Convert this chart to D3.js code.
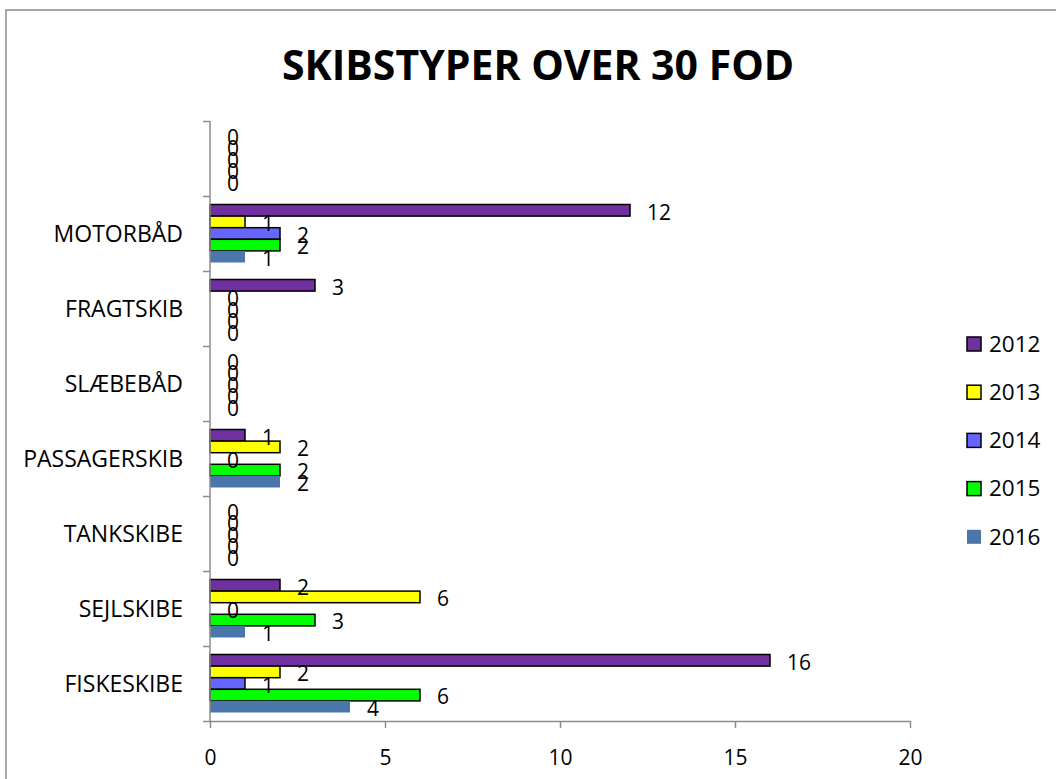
<!DOCTYPE html>
<html>
<head>
<meta charset="utf-8">
<script src="https://cdn.jsdelivr.net/npm/d3@7"></script>
<style>
  body { margin: 0; background: #fff; }
  #vis { width: 1056px; height: 779px; }
  text { font-family: "Open Sans", sans-serif; fill: #000; }
</style>
</head>
<body>
<div id="vis"></div>
<script>
// categories top to bottom (top one has no label)
var categories = ["", "MOTORBÅD", "FRAGTSKIB", "SLÆBEBÅD", "PASSAGERSKIB", "TANKSKIBE", "SEJLSKIBE", "FISKESKIBE"];
var years = ["2012", "2013", "2014", "2015", "2016"];
var colours = ["#7030a0", "#ffff00", "#6666ff", "#00ff00", "#4a76ab"];

// one array per year, same order as categories
var v2012 = [0, 12, 3, 0, 1, 0, 2, 16];
var v2013 = [0, 1, 0, 0, 2, 0, 6, 2];
var v2014 = [0, 2, 0, 0, 0, 0, 0, 1];
var v2015 = [0, 2, 0, 0, 2, 0, 3, 6];
var v2016 = [0, 1, 0, 0, 2, 0, 1, 4];
var xTicks = [0, 5, 10, 15, 20];

var series = [v2012, v2013, v2014, v2015, v2016];

var width = 1056,
  height = 779;

var svg = d3.select('#vis')
  .append('svg')
  .attr('width', width)
  .attr('height', height);

// chart frame
svg.append('rect')
  .attr('x', 6)
  .attr('y', 10)
  .attr('width', 1070)
  .attr('height', 800)
  .attr('fill', 'none')
  .attr('stroke', '#8c8c8c')
  .attr('stroke-width', 1.5);

svg.append('text')
  .text('SKIBSTYPER OVER 30 FOD')
  .attr('x', 538)
  .attr('y', 80)
  .attr('text-anchor', 'middle')
  .style('font-weight', 'bold')
  .style('font-size', '41px');

var plot = { left: 210, right: 910, top: 121, bottom: 721 };

var x_scale = d3.scaleLinear()
  .domain([0, 20])
  .range([plot.left, plot.right]);

var y_scale = d3.scaleBand()
  .domain(categories)
  .range([plot.top, plot.bottom]);

var inner = d3.scaleBand()
  .domain(years)
  .range([8.5, y_scale.bandwidth() - 8.5]);

var rows = [];
categories.forEach(function(c, i) {
  years.forEach(function(y, j) {
    rows.push({ cat: c, year: y, idx: j, value: series[j][i] });
  });
});

// bars
svg.selectAll('.bar')
  .data(rows)
  .enter()
  .append('rect')
  .attr('class', 'bar')
  .attr('x', x_scale(0))
  .attr('y', function(d) { return y_scale(d.cat) + inner(d.year); })
  .attr('width', function(d) { return x_scale(d.value) - x_scale(0); })
  .attr('height', inner.bandwidth())
  .attr('fill', function(d) { return colours[d.idx]; })
  .attr('stroke', function(d) { return (d.idx < 4 && d.value > 0) ? '#000' : 'none'; })
  .attr('stroke-width', 1.5);

// data labels
svg.selectAll('.lbl')
  .data(rows)
  .enter()
  .append('text')
  .attr('class', 'lbl')
  .attr('x', function(d) { return x_scale(d.value) + 17; })
  .attr('y', function(d) { return y_scale(d.cat) + inner(d.year) + inner.bandwidth() / 2 + 2; })
  .attr('dy', '0.35em')
  .style('font-size', '21px')
  .text(function(d) { return d.value; });

// y axis: line, ticks at band edges, labels at centres
var edges = d3.scaleLinear().domain([0, categories.length]).range([plot.top, plot.bottom]);
var y_axis = svg.append('g')
  .attr('class', 'y axis')
  .attr('transform', 'translate(' + plot.left + ',0)')
  .call(d3.axisLeft(edges).ticks(categories.length).tickSize(7).tickFormat(''));
y_axis.selectAll('line').attr('stroke', '#8c8c8c').attr('stroke-width', 1.5);
y_axis.select('.domain').attr('stroke', '#8c8c8c').attr('stroke-width', 1.5).attr('d', 'M0,' + plot.top + 'V' + plot.bottom);

svg.selectAll('.cat')
  .data(categories)
  .enter()
  .append('text')
  .attr('class', 'cat')
  .attr('x', plot.left - 27)
  .attr('y', function(d) { return y_scale(d) + y_scale.bandwidth() / 2; })
  .attr('dy', '0.35em')
  .attr('text-anchor', 'end')
  .style('font-size', '23px')
  .text(function(d) { return d; });

// x axis
var x_axis = svg.append('g')
  .attr('class', 'x axis')
  .attr('transform', 'translate(0,' + plot.bottom + ')')
  .call(d3.axisBottom(x_scale).tickValues(xTicks).tickSize(7).tickSizeOuter(0));
x_axis.selectAll('line').attr('stroke', '#8c8c8c').attr('stroke-width', 1.5);
x_axis.select('.domain').attr('stroke', '#8c8c8c').attr('stroke-width', 1.5);
x_axis.selectAll('text')
  .attr('y', 37)
  .attr('dy', '0.35em')
  .style('font-size', '21px')
  .style('font-family', '"Open Sans", sans-serif')
  .attr('fill', '#000');

// legend
var legend = svg.selectAll('.legend')
  .data(years)
  .enter()
  .append('g')
  .attr('class', 'legend')
  .attr('transform', function(d, i) { return 'translate(967,' + (344 + i * 48.2) + ')'; });

legend.append('rect')
  .attr('x', 0)
  .attr('y', -7)
  .attr('width', 14)
  .attr('height', 14)
  .attr('fill', function(d, i) { return colours[i]; })
  .attr('stroke', function(d, i) { return i < 4 ? '#000' : 'none'; })
  .attr('stroke-width', 1.5);

legend.append('text')
  .attr('x', 22)
  .attr('y', 0)
  .attr('dy', '0.35em')
  .style('font-size', '22.5px')
  .text(function(d) { return d; });
</script>
</body>
</html>
